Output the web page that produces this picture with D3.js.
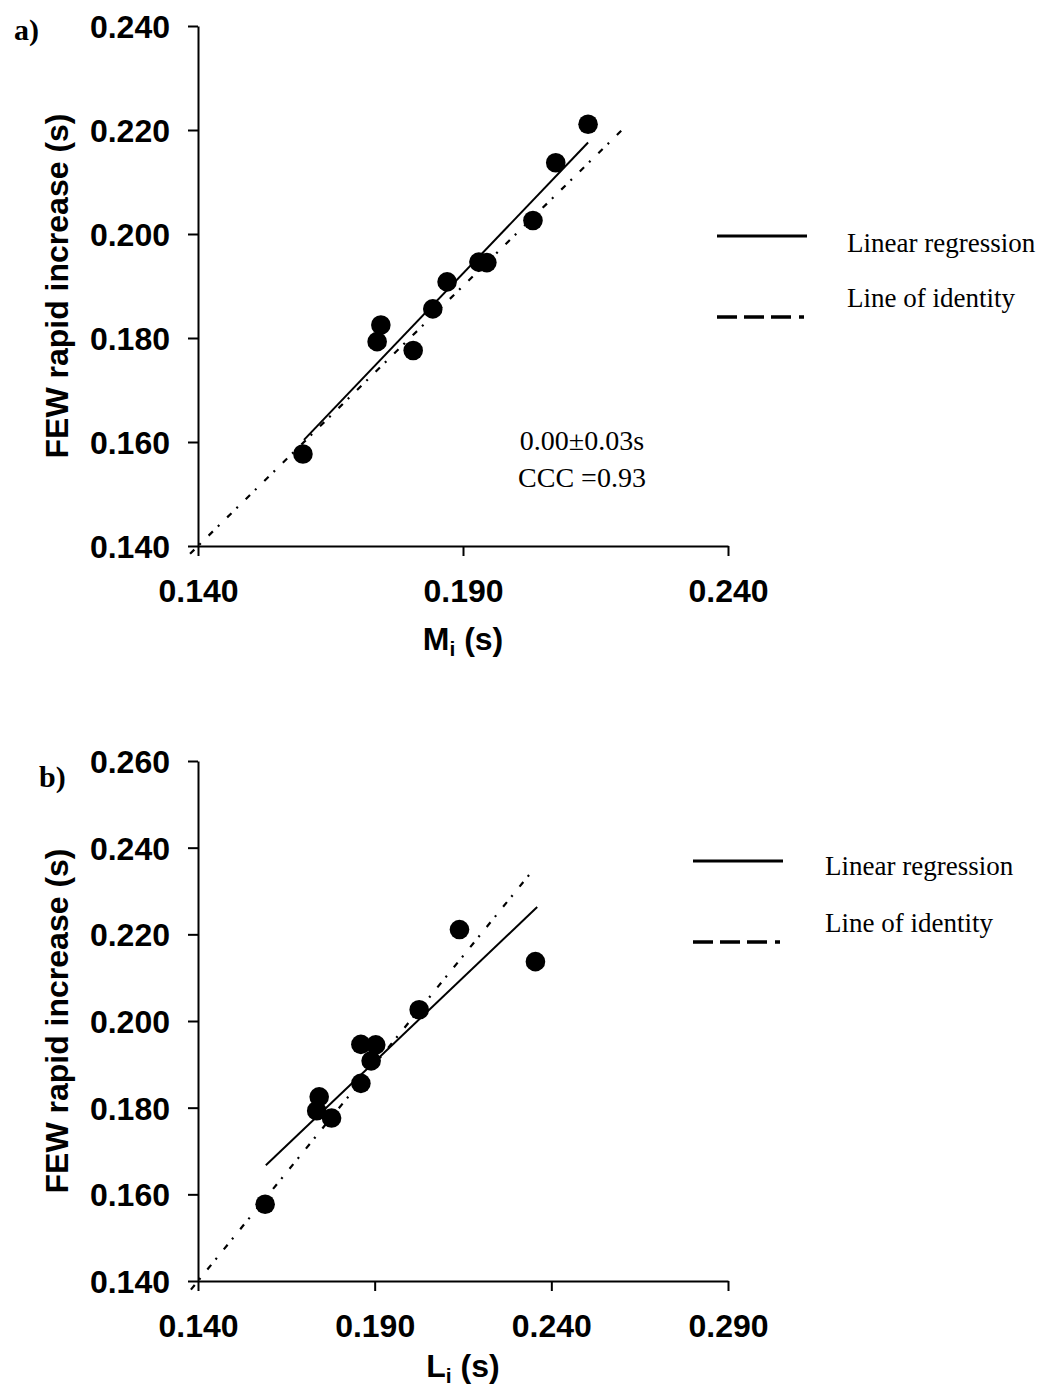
<!DOCTYPE html>
<meta charset="utf-8">
<script src="https://d3js.org/d3.v7.min.js"></script>
<style>
  body { margin: 0; background: #fff; }
</style>
<svg id="chart" width="1052" height="1394"></svg>
<script>

// FEW rapid increase (s), same subjects in both panels
var fewRapid = [0.1577, 0.1776, 0.1793, 0.1825, 0.1856, 0.1908, 0.1946, 0.1945, 0.2026, 0.2137, 0.2211];
// panel a) x values, M_i (s)
var mi = [0.1598, 0.1806, 0.1738, 0.1745, 0.1843, 0.1870, 0.1930, 0.1945, 0.2032, 0.2075, 0.2136];
// panel b) x values, L_i (s)
var li = [0.1590, 0.1778, 0.1736, 0.1743, 0.1861, 0.1890, 0.1861, 0.1903, 0.2026, 0.2355, 0.2140];

// fitted lines: [x, y] at both ends
var regA = [[0.1600, 0.1604], [0.2136, 0.2176]];
var identA = [[0.1385, 0.1385], [0.2200, 0.2200]];
var regB = [[0.1592, 0.1667], [0.2360, 0.2263]];
var identB = [[0.1380, 0.1380], [0.2352, 0.2352]];

var xTicksA = [0.140, 0.190, 0.240];
var yTicksA = [0.140, 0.160, 0.180, 0.200, 0.220, 0.240];
var xTicksB = [0.140, 0.190, 0.240, 0.290];
var yTicksB = [0.140, 0.160, 0.180, 0.200, 0.220, 0.240, 0.260];

var legendLabels = ["Linear regression", "Line of identity"];
var statLines = ["0.00\u00b10.03s", "CCC =0.93"];

var svg = d3.select("#chart");
var sans = "'Liberation Sans', Arial, sans-serif";
var serif = "'Liberation Serif', 'Times New Roman', serif";

function drawPanel(p) {
  var x = d3.scaleLinear().domain(p.xDomain).range([p.left, p.right]);
  var y = d3.scaleLinear().domain(p.yDomain).range([p.bottom, p.top]);
  var g = svg.append("g");

  // axes
  var xAxis = g.append("g")
      .attr("transform", "translate(0," + p.bottom + ")")
      .call(d3.axisBottom(x).tickValues(p.xTicks).tickSize(10).tickSizeOuter(0).tickFormat(d3.format(".3f")));
  var yAxis = g.append("g")
      .attr("transform", "translate(" + p.left + ",0)")
      .call(d3.axisLeft(y).tickValues(p.yTicks).tickSize(10).tickSizeOuter(0).tickPadding(18).tickFormat(d3.format(".3f")));

  [xAxis, yAxis].forEach(function(a) {
    a.select(".domain").attr("stroke", "#000").attr("stroke-width", 2);
    a.selectAll(".tick line").attr("stroke", "#000").attr("stroke-width", 2);
    a.selectAll(".tick text")
        .attr("fill", "#000")
        .style("font-family", sans)
        .style("font-weight", "bold")
        .style("font-size", "32px");
  });
  xAxis.selectAll(".tick text").attr("y", 56).attr("dy", 0);
  yAxis.selectAll(".tick text").attr("dy", "0.36em");

  // identity line
  var line = d3.line().x(function(d) { return x(d[0]); }).y(function(d) { return y(d[1]); });
  g.append("path")
      .attr("d", line(p.ident))
      .attr("fill", "none")
      .attr("stroke", "#000")
      .attr("stroke-width", 2.2)
      .attr("stroke-dasharray", "6,7,2,11");

  // regression line
  g.append("path")
      .attr("d", line(p.reg))
      .attr("fill", "none")
      .attr("stroke", "#000")
      .attr("stroke-width", 2);

  // points
  g.selectAll("circle.pt")
    .data(p.xs)
    .enter().append("circle")
      .attr("class", "pt")
      .attr("cx", function(d) { return x(d); })
      .attr("cy", function(d, i) { return y(fewRapid[i]); })
      .attr("r", 9.8)
      .attr("fill", "#000");

  // axis titles
  g.append("text")
      .attr("transform", "translate(68," + ((p.top + p.bottom) / 2) + ") rotate(-90)")
      .attr("text-anchor", "middle")
      .style("font-family", sans)
      .style("font-weight", "bold")
      .style("font-size", "32px")
      .text("FEW rapid increase (s)");

  var xt = g.append("text")
      .attr("x", (p.left + p.right) / 2)
      .attr("y", p.bottom + p.xTitleOffset)
      .attr("text-anchor", "middle")
      .style("font-family", sans)
      .style("font-weight", "bold")
      .style("font-size", "32px");
  xt.append("tspan").text(p.xLetter);
  xt.append("tspan").attr("dy", 6).style("font-size", "21px").text("i");
  xt.append("tspan").attr("dy", -6).text(" (s)");

  // panel letter
  g.append("text")
      .attr("x", p.letterX)
      .attr("y", p.letterY)
      .style("font-family", serif)
      .style("font-weight", "bold")
      .style("font-size", "30px")
      .text(p.letter);

  // legend
  var lg = g.append("g");
  lg.append("line")
      .attr("x1", p.legX).attr("x2", p.legX + 90)
      .attr("y1", p.legY1).attr("y2", p.legY1)
      .attr("stroke", "#000").attr("stroke-width", 3);
  lg.append("line")
      .attr("x1", p.legX).attr("x2", p.legX + 89)
      .attr("y1", p.legY2).attr("y2", p.legY2)
      .attr("stroke", "#000").attr("stroke-width", 3.5)
      .attr("stroke-dasharray", "20,7,20,7,20,8,5");
  lg.selectAll("text")
    .data(legendLabels)
    .enter().append("text")
      .attr("x", p.legTextX)
      .attr("y", function(d, i) { return i === 0 ? p.legT1 : p.legT2; })
      .style("font-family", serif)
      .style("font-size", "27px")
      .text(function(d) { return d; });

  if (p.stats) {
    g.selectAll("text.stat")
      .data(statLines)
      .enter().append("text")
        .attr("class", "stat")
        .attr("x", 582)
        .attr("y", function(d, i) { return 450 + i * 37; })
        .attr("text-anchor", "middle")
        .style("font-family", serif)
        .style("font-size", "28px")
        .text(function(d) { return d; });
  }
}

drawPanel({
  xDomain: [0.140, 0.240], yDomain: [0.140, 0.240],
  left: 198, right: 728, top: 26, bottom: 546,
  xTicks: xTicksA, yTicks: yTicksA,
  xs: mi, reg: regA, ident: identA,
  xLetter: "M", xTitleOffset: 104,
  letter: "a)", letterX: 14, letterY: 40,
  legX: 717, legY1: 236, legY2: 317, legTextX: 847, legT1: 252, legT2: 307,
  stats: true
});

drawPanel({
  xDomain: [0.140, 0.290], yDomain: [0.140, 0.260],
  left: 198, right: 728, top: 761, bottom: 1281,
  xTicks: xTicksB, yTicks: yTicksB,
  xs: li, reg: regB, ident: identB,
  xLetter: "L", xTitleOffset: 96,
  letter: "b)", letterX: 39, letterY: 787,
  legX: 693, legY1: 861, legY2: 942, legTextX: 825, legT1: 875, legT2: 932,
  stats: false
});

</script>
